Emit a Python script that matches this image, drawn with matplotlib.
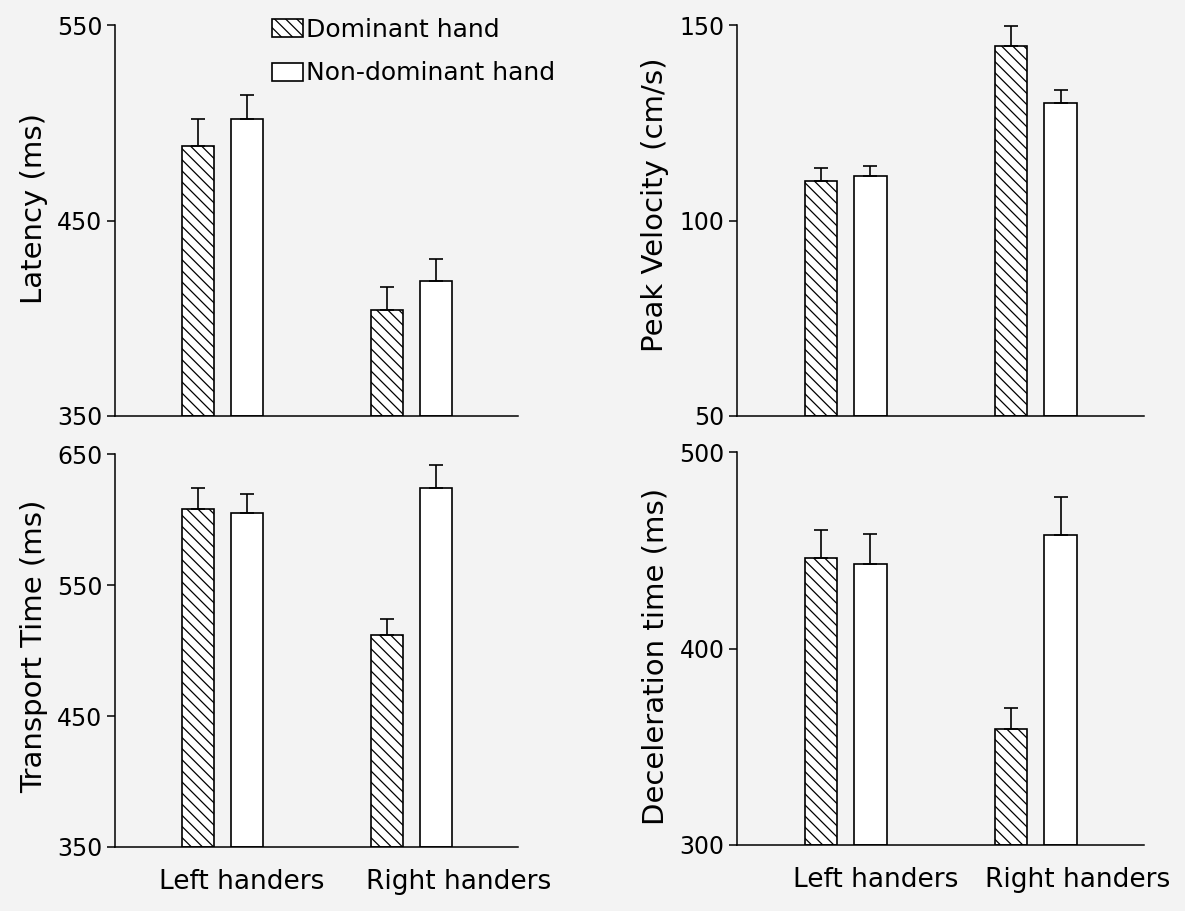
import numpy as np
import matplotlib
matplotlib.use("Agg")
import matplotlib.pyplot as plt

# data
groups = ['Left handers', 'Right handers']

latency_dom = [488, 404]
latency_dom_err = [14, 12]
latency_non = [502, 419]
latency_non_err = [12, 11.5]

velocity_dom = [110.2, 144.6]
velocity_dom_err = [3.2, 5.1]
velocity_non = [111.3, 130.0]
velocity_non_err = [2.7, 3.5]

transport_dom = [608, 512]
transport_dom_err = [16, 12]
transport_non = [605, 624]
transport_non_err = [15, 18]

decel_dom = [446, 359]
decel_dom_err = [14.5, 11]
decel_non = [443, 458]
decel_non_err = [15.5, 19]

plt.rcParams['font.family'] = ['DejaVu Sans']
plt.rcParams['hatch.linewidth'] = 0.9

bg = '#f3f3f3'
fig = plt.figure(figsize=(11.85, 9.11), dpi=100, facecolor=bg)

x = np.arange(1, len(groups) + 1)
off = 0.13
width = 0.17


def panel(rect, dom, dom_err, non, non_err, ylim, ticks, ylabel, label_y, show_x, label_shift):
    ax = fig.add_axes(rect)
    ax.set_facecolor('none')
    zeros = [0] * len(dom)
    b1 = ax.bar(x - off, np.array(dom) - ylim[0], width, bottom=ylim[0], color='white',
                edgecolor='black', hatch='\\\\\\', linewidth=1.2, label='Dominant hand')
    b2 = ax.bar(x + off, np.array(non) - ylim[0], width, bottom=ylim[0], color='white',
                edgecolor='black', linewidth=1.2, label='Non-dominant hand')
    ax.errorbar(x - off, dom, yerr=[zeros, dom_err], fmt='none', ecolor='black',
                elinewidth=1.2, capsize=5, capthick=1.2)
    ax.errorbar(x + off, non, yerr=[zeros, non_err], fmt='none', ecolor='black',
                elinewidth=1.2, capsize=5, capthick=1.2)
    ax.set_xlim(1 - 108 / 189, 2 + 107 / 189)
    ax.set_ylim(*ylim)
    ax.set_yticks(ticks)
    ax.tick_params(axis='y', direction='out', length=6, width=1.1, pad=3, labelsize=17)
    for s in ['top', 'right']:
        ax.spines[s].set_visible(False)
    for s in ['left', 'bottom']:
        ax.spines[s].set_linewidth(1.1)
    ax.set_ylabel(ylabel, fontsize=21)
    ax.yaxis.set_label_coords(-0.167, label_y)
    if show_x:
        ax.set_xticks(x + np.array(label_shift))
        ax.set_xticklabels(groups, fontsize=19)
        ax.tick_params(axis='x', length=0, pad=16)
    else:
        ax.set_xticks([])
    return ax, b1, b2


ax1, h1, h2 = panel([0.097, 0.5434, 0.340, 0.429], latency_dom, latency_dom_err,
                    latency_non, latency_non_err, (350, 550), [350, 450, 550],
                    'Latency (ms)', 0.53, False, None)
panel([0.622, 0.5434, 0.343, 0.429], velocity_dom, velocity_dom_err,
      velocity_non, velocity_non_err, (50, 150), [50, 100, 150],
      'Peak Velocity (cm/s)', 0.54, False, None)
panel([0.097, 0.0703, 0.340, 0.431], transport_dom, transport_dom_err,
      transport_non, transport_non_err, (350, 650), [350, 450, 550, 650],
      'Transport Time (ms)', 0.51, True, [0.10, 0.25])
panel([0.622, 0.0725, 0.343, 0.431], decel_dom, decel_dom_err,
      decel_non, decel_non_err, (300, 500), [300, 400, 500],
      'Deceleration time (ms)', 0.48, True, [0.16, 0.22])

fig.legend(handles=[h1, h2], loc='upper left', bbox_to_anchor=(272 / 1185, 1 - 18 / 911),
           frameon=False, fontsize=18, handlelength=1.25, handleheight=0.75,
           handletextpad=0.1, labelspacing=0.78, borderpad=0, borderaxespad=0)

fig.savefig('out.png', dpi=100, facecolor=bg)
